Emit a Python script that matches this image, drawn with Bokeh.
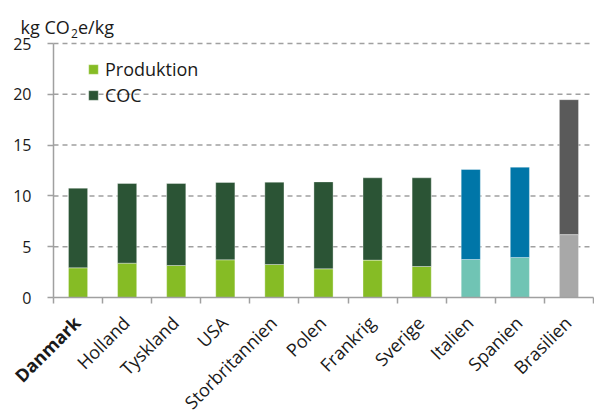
from math import pi

from bokeh.core.properties import value
from bokeh.embed import file_html
from bokeh.models import ColumnDataSource, FixedTicker, Label, Legend, LegendItem, Range1d
from bokeh.plotting import figure
from bokeh.resources import INLINE

# Carbon footprint per kg, split into production and COC
countries = ["Danmark", "Holland", "Tyskland", "USA", "Storbritannien", "Polen",
             "Frankrig", "Sverige", "Italien", "Spanien", "Brasilien"]
produktion = [2.92, 3.38, 3.15, 3.71, 3.25, 2.82, 3.68, 3.05, 3.74, 3.94, 6.19]
coc = [7.84, 7.84, 8.07, 7.61, 8.10, 8.56, 8.10, 8.73, 8.86, 8.89, 13.28]
y_ticks = [0, 5, 10, 15, 20, 25]
highlight = "Danmark"

FONT = "Open Sans"
TEXT = "#1a1a1a"
AXIS_GREY = "#a0a0a0"

# colour scheme: green group, blue group, grey group
prod_colors = ["#86bc25"] * 8 + ["#70c4b4"] * 2 + ["#a8a8a8"]
coc_colors = ["#2b5435"] * 8 + ["#0076a8"] * 2 + ["#5a5a5a"]

# the frame fills the whole canvas; axes are pinned inside it
W, H = 594, 410
LEFT, RIGHT, TOP, BOTTOM = 53, 593, 43, 297          # plotting area in pixels
n = len(countries)
y_max = y_ticks[-1]
X_PX = (RIGHT - LEFT) / n                             # pixels per category
Y_PX = (BOTTOM - TOP) / y_max                         # pixels per unit
x_lo, x_hi = -0.5, n - 0.5

x_range = Range1d(x_lo - LEFT / X_PX, x_hi + (W - RIGHT) / X_PX)
y_range = Range1d(-(H - BOTTOM) / Y_PX, y_max + TOP / Y_PX)

idx = list(range(n))
src = ColumnDataSource(dict(
    x=idx, prod=produktion, total=[p_ + c for p_, c in zip(produktion, coc)],
    zero=[0] * n, prod_color=prod_colors, coc_color=coc_colors,
))

p = figure(width=W, height=H, output_backend="svg", toolbar_location=None,
           x_range=x_range, y_range=y_range,
           min_border_left=0, min_border_right=0, min_border_top=0, min_border_bottom=0)
p.outline_line_color = None
p.xgrid.visible = False
p.ygrid.visible = False

# dashed horizontal gridlines behind the bars
grid_vals = y_ticks[1:]
p.segment(x0=[x_lo] * len(grid_vals), x1=[x_hi] * len(grid_vals),
          y0=grid_vals, y1=grid_vals, line_color=AXIS_GREY, line_width=1.5,
          line_dash="5 4")

r_prod = p.vbar(x="x", bottom="zero", top="prod", width=0.39, source=src,
                fill_color="prod_color", line_color="white", line_alpha=0.35, line_width=1)
r_coc = p.vbar(x="x", bottom="prod", top="total", width=0.39, source=src,
               fill_color="coc_color", line_color="white", line_alpha=0.35, line_width=1)

# y axis pinned at the left edge of the category area
yax = p.yaxis[0]
yax.fixed_location = x_lo
yax.bounds = (0, y_max)
yax.ticker = FixedTicker(ticks=y_ticks)
yax.axis_line_color = AXIS_GREY
yax.axis_line_width = 1.5
yax.major_tick_line_color = AXIS_GREY
yax.major_tick_line_width = 1.5
yax.major_tick_out = 6
yax.major_tick_in = 0
yax.minor_tick_line_color = None
yax.major_label_standoff = 16
yax.major_label_text_font = FONT
yax.major_label_text_font_size = "16px"
yax.major_label_text_color = TEXT

# x axis pinned at zero, ticks between categories
xax = p.xaxis[0]
xax.fixed_location = 0
xax.bounds = (x_lo, x_hi)
xax.ticker = FixedTicker(ticks=[i - 0.5 for i in range(n + 1)])
xax.axis_line_color = AXIS_GREY
xax.axis_line_width = 1.5
xax.major_tick_line_color = AXIS_GREY
xax.major_tick_line_width = 1.5
xax.major_tick_out = 6
xax.major_tick_in = 0
xax.minor_tick_line_color = None
xax.major_label_text_font_size = "0px"

# rotated category names, end of each name under its bar
for i, name in enumerate(countries):
    p.add_layout(Label(x=i - 0.02, y=-22 / Y_PX, text=name, angle=pi / 4,
                       angle_units="rad", text_align="right", text_baseline="middle",
                       text_font=FONT, text_font_size="18px", text_color=TEXT,
                       text_font_style="bold" if name == highlight else "normal"))

# unit label with subscript
p.text(x=[x_lo - 33 / X_PX], y=[y_max + 16.3 / Y_PX], text=["kg CO"],
       text_align="left", text_baseline="alphabetic", text_font=value(FONT),
       text_font_size=value("18px"), text_color=TEXT)
p.text(x=[x_lo + 17.5 / X_PX], y=[y_max + 10 / Y_PX], text=["2"],
       text_align="left", text_baseline="alphabetic", text_font=value(FONT),
       text_font_size=value("12px"), text_color=TEXT)
p.text(x=[x_lo + 24.5 / X_PX], y=[y_max + 16.3 / Y_PX], text=["e/kg"],
       text_align="left", text_baseline="alphabetic", text_font=value(FONT),
       text_font_size=value("18px"), text_color=TEXT)

legend = Legend(items=[LegendItem(label="Produktion", renderers=[r_prod], index=0),
                       LegendItem(label="COC", renderers=[r_coc], index=0)],
                location=(LEFT + 34, H - BOTTOM + 190), orientation="vertical")
legend.margin = 0
legend.padding = 0
legend.spacing = 2
legend.glyph_width = 12
legend.glyph_height = 12
legend.label_height = 24
legend.label_standoff = 6
legend.label_text_font = FONT
legend.label_text_font_size = "18px"
legend.label_text_color = TEXT
legend.border_line_color = None
legend.background_fill_alpha = 0
p.add_layout(legend)

open("out.html", "w").write(file_html(p, INLINE))
